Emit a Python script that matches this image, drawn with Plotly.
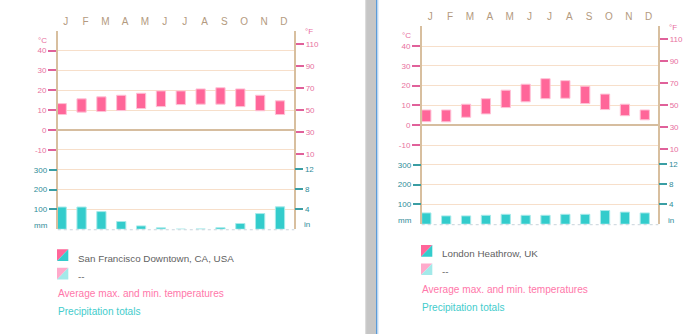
import plotly.graph_objects as go

# ---------------- data ----------------
months = ['J', 'F', 'M', 'A', 'M', 'J', 'J', 'A', 'S', 'O', 'N', 'D']

sf_name = 'San Francisco Downtown, CA, USA'
sf_tmax = [13.3, 15.7, 16.7, 17.5, 18.5, 19.7, 19.7, 20.7, 21.3, 20.7, 17.5, 14.7]
sf_tmin = [7.8, 9.0, 9.3, 9.8, 10.8, 11.8, 12.8, 13.0, 13.0, 11.8, 9.7, 7.8]
sf_precip = [112, 112, 89, 39, 17, 7, 0.4, 1.5, 8, 29, 79, 113]

lon_name = 'London Heathrow, UK'
lon_tmax = [7.7, 7.7, 10.6, 13.4, 17.7, 20.7, 23.5, 22.5, 19.7, 15.7, 10.6, 7.7]
lon_tmin = [1.8, 1.7, 4.0, 5.7, 8.9, 11.8, 13.4, 13.6, 10.9, 7.9, 4.8, 2.7]
lon_precip = [57, 42, 42, 45, 50, 45, 45, 50, 50, 69, 61, 57]

temp_c_ticks = [40, 30, 20, 10, 0, -10]
precip_mm_ticks = [300, 200, 100]
temp_f_ticks = [110, 90, 70, 50, 30, 10]
precip_in_ticks = [12, 8, 4]

# ---------------- style ----------------
W, H = 699, 334
PINK = '#ff6699'
PINK_EDGE = '#ffc2d6'
TEAL = '#33cccc'
TEAL_EDGE = '#a8eaea'
PINK_TXT = '#e8709e'
TEAL_TXT = '#2f8c98'
PINK_TICK = '#e0619a'
TEAL_TICK = '#3a9ea4'
GRID = '#f7dfca'
ZERO = '#d6bd9f'
AXIS = '#d8bf9f'
MONTH = '#b39a80'
FONT = 'Liberation Sans'
MM_BASE = -50.0  # 0 mm sits at -50 on the shared scale, 1 mm = 0.1 units
BAR_W = 0.465


def px(x):
    return x / W


def py(y):
    return 1 - y / H


def mm_to_y(v):
    return MM_BASE + v / 10.0


def f_to_c(f):
    return (f - 32) * 5.0 / 9.0


def in_to_y(v):
    return mm_to_y(v * 25.4)


fig = go.Figure()

panels = [
    dict(name=sf_name, tmax=sf_tmax, tmin=sf_tmin, pr=sf_precip,
         x0=57.8, x1=294.3, ytop=30.75, ybot=229.25, xr=[0.035, 11.953],
         dx=0.0, dy=0.0, ax=1),
    dict(name=lon_name, tmax=lon_tmax, tmin=lon_tmin, pr=lon_precip,
         x0=421.7, x1=658.3, ytop=26.2, ybot=224.2, xr=[0.0, 11.913],
         dx=364.0, dy=-4.3, ax=2),
]

layout = dict(
    width=W, height=H, autosize=False,
    margin=dict(l=0, r=0, t=0, b=0),
    paper_bgcolor='white', plot_bgcolor='rgba(0,0,0,0)',
    barmode='overlay', showlegend=False,
    font=dict(family=FONT),
)
shapes = []
annotations = []

for p in panels:
    k = p['ax']
    xname = 'x' if k == 1 else 'x2'
    xkey = 'xaxis' if k == 1 else 'xaxis2'
    base = 1 if k == 1 else 5
    yk = [base, base + 1, base + 2, base + 3]
    ynames = ['y' if n == 1 else 'y%d' % n for n in yk]
    ykeys = ['yaxis' if n == 1 else 'yaxis%d' % n for n in yk]
    dom_y = [py(p['ybot']), py(p['ytop'])]
    dom_x = [px(p['x0']), px(p['x1'])]
    xpos = [i + BAR_W / 2 for i in range(len(months))]

    # temperature bars
    fig.add_trace(go.Bar(
        x=xpos, y=[a - b for a, b in zip(p['tmax'], p['tmin'])], base=p['tmin'],
        width=BAR_W, marker=dict(color=PINK, line=dict(color=PINK_EDGE, width=1)),
        xaxis=xname, yaxis=ynames[0], hoverinfo='skip'))
    # precipitation bars
    fig.add_trace(go.Bar(
        x=xpos, y=[v / 10.0 for v in p['pr']], base=MM_BASE,
        width=BAR_W, marker=dict(color=TEAL, line=dict(color=TEAL_EDGE, width=1)),
        xaxis=xname, yaxis=ynames[0], hoverinfo='skip'))
    # empty traces so that overlay axes are drawn
    for yn in ynames[1:]:
        fig.add_trace(go.Scatter(x=[None], y=[None], xaxis=xname, yaxis=yn,
                                 showlegend=False, hoverinfo='skip'))

    layout[xkey] = dict(
        domain=dom_x, range=p['xr'], anchor=ynames[0], side='top',
        tickmode='array', tickvals=[i + 0.43 for i in range(len(months))],
        ticktext=months, ticks='', showline=False, showgrid=False, zeroline=False,
        tickfont=dict(family=FONT, size=10, color=MONTH), ticklabelstandoff=3,
    )
    common = dict(domain=dom_y, range=[-50, 50], anchor=xname, ticks='outside',
                  ticklen=8, tickwidth=1.5, zeroline=False, tickmode='array')
    layout[ykeys[0]] = dict(
        common, tickvals=temp_c_ticks, ticktext=[str(v) for v in temp_c_ticks],
        tickcolor=PINK_TICK, tickfont=dict(family=FONT, size=8, color=PINK_TXT),
        showgrid=True, gridcolor=GRID, gridwidth=1.3,
        zeroline=True, zerolinecolor=ZERO, zerolinewidth=1.6,
        showline=True, linecolor=AXIS, linewidth=1.5, side='left')
    layout[ykeys[1]] = dict(
        common, overlaying=ynames[0], side='left',
        tickvals=[mm_to_y(v) for v in precip_mm_ticks],
        ticktext=[str(v) for v in precip_mm_ticks],
        tickcolor=TEAL_TICK, tickfont=dict(family=FONT, size=8, color=TEAL_TXT),
        showgrid=True, gridcolor=GRID, gridwidth=1.3, showline=False)
    layout[ykeys[2]] = dict(
        common, overlaying=ynames[0], side='right',
        tickvals=[f_to_c(v) for v in temp_f_ticks],
        ticktext=[str(v) for v in temp_f_ticks],
        tickcolor=PINK_TICK, tickfont=dict(family=FONT, size=8, color=PINK_TXT),
        showgrid=False, showline=True, linecolor=AXIS, linewidth=1.5)
    layout[ykeys[3]] = dict(
        common, overlaying=ynames[0], side='right',
        tickvals=[in_to_y(v) for v in precip_in_ticks],
        ticktext=[str(v) for v in precip_in_ticks],
        tickcolor=TEAL_TICK, tickfont=dict(family=FONT, size=8, color=TEAL_TXT),
        showgrid=False, showline=False)

    dx, dy = p['dx'], p['dy']
    # dotted baseline under precipitation bars
    shapes.append(dict(type='line', xref='paper', yref='paper',
                       x0=px(p['x0']), x1=px(p['x1']),
                       y0=py(p['ybot'] + 0.5), y1=py(p['ybot'] + 0.5),
                       line=dict(color='#c9d4dc', width=1, dash='dot')))

    # unit labels
    for txt, cx, cy, col in [('°C', 42.3, 40.0, PINK_TXT), ('mm', 40.8, 225.0, TEAL_TXT),
                             ('°F', 308.8, 32.0, PINK_TXT), ('in', 307.0, 224.3, TEAL_TXT)]:
        annotations.append(dict(text=txt, xref='paper', yref='paper',
                                x=px(cx + dx), y=py(cy + dy), xanchor='center', yanchor='middle',
                                showarrow=False, borderpad=0,
                                font=dict(family=FONT, size=8, color=col)))

    # legend squares
    def square(xa, ya, c1, c2):
        xb, yb = xa + 11.3, ya + 11.7
        shapes.append(dict(type='path', xref='paper', yref='paper', line=dict(width=0),
                           fillcolor=c1,
                           path='M %f,%f L %f,%f L %f,%f Z' % (px(xa), py(ya), px(xb), py(ya), px(xa), py(yb))))
        shapes.append(dict(type='path', xref='paper', yref='paper', line=dict(width=0),
                           fillcolor=c2,
                           path='M %f,%f L %f,%f L %f,%f Z' % (px(xb), py(ya), px(xb), py(yb), px(xa), py(yb))))

    lx = 57.0 + dx
    square(lx, 249.3 + dy, PINK, TEAL)
    square(lx, 267.7 + dy, '#ffaacb', '#a3e9e9')

    annotations.append(dict(text=p['name'], xref='paper', yref='paper',
                            x=px(77 + dx), y=py(258 + dy), xanchor='left', yanchor='middle',
                            showarrow=False, borderpad=0,
                            font=dict(family=FONT, size=9.8, color='#5f5f5f')))
    annotations.append(dict(text='--', xref='paper', yref='paper',
                            x=px(77 + dx), y=py(276 + dy), xanchor='left', yanchor='middle',
                            showarrow=False, borderpad=0,
                            font=dict(family=FONT, size=9.8, color='#5f5f5f')))
    annotations.append(dict(text='Average max. and min. temperatures', xref='paper', yref='paper',
                            x=px(lx), y=py(293.5 + dy), xanchor='left', yanchor='middle',
                            showarrow=False, borderpad=0,
                            font=dict(family=FONT, size=10.1, color='#ff77aa')))
    annotations.append(dict(text='Precipitation totals', xref='paper', yref='paper',
                            x=px(lx), y=py(311.3 + dy), xanchor='left', yanchor='middle',
                            showarrow=False, borderpad=0,
                            font=dict(family=FONT, size=10.1, color='#44cccc')))

# separator between the two panels
shapes.append(dict(type='rect', xref='paper', yref='paper', x0=px(365), x1=px(376),
                   y0=0, y1=1, line=dict(width=0), fillcolor='#c6c6c6', layer='below'))
shapes.append(dict(type='rect', xref='paper', yref='paper', x0=px(365), x1=px(366.2),
                   y0=0, y1=1, line=dict(width=0), fillcolor='#dcdcdc', layer='below'))
shapes.append(dict(type='rect', xref='paper', yref='paper', x0=px(376), x1=px(377.4),
                   y0=0, y1=1, line=dict(width=0), fillcolor='#5b9bd8', layer='below'))
shapes.append(dict(type='rect', xref='paper', yref='paper', x0=px(377.4), x1=px(378.4),
                   y0=0, y1=1, line=dict(width=0), fillcolor='#b9d6f2', layer='below'))

layout['shapes'] = shapes
layout['annotations'] = annotations
fig.update_layout(**layout)

fig.write_html('out.html', config={'displayModeBar': False})
